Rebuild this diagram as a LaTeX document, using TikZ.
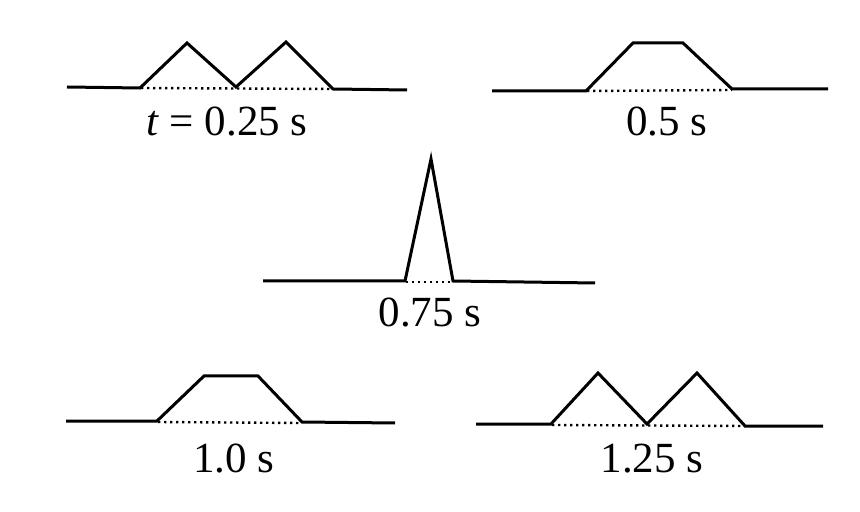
\documentclass[tikz,border=0pt]{standalone}
\usepackage{fontspec}
\setmainfont{Liberation Serif}
\begin{document}
\begin{tikzpicture}[x=0.5pt,y=-0.5pt,
  pulse/.style={line width=1.5pt,line join=miter,line cap=butt},
  dots/.style={line width=1.2pt,dash pattern=on 1.2pt off 1.8pt},
  lbl/.style={anchor=base,inner sep=0pt,font=\fontsize{21.5}{25}\selectfont}]
\useasboundingbox[fill=white] (0,0) rectangle (860,512);
% panel 1: t = 0.25 s
\draw[dots] (141,88) -- (333,89);
\draw[pulse] (67,87) -- (140,88) -- (187,43) -- (236,87) -- (286,42) -- (333,89) -- (407,90);
\node[lbl] (l1) at (227,136) {\textit{t} = 0.25 s};
% panel 2: 0.5 s
\draw[dots] (587,91) -- (732,90);
\draw[pulse] (492,91) -- (586,91) -- (633,43) -- (683,43) -- (732,89) -- (828,89);
\node[lbl] (l2) at (667,136) {0.5 s};
% panel 3: 0.75 s
\draw[dots] (406,282) -- (453,282);
\draw[pulse] (263,281) -- (405,281) -- (431,159) -- (453,281) -- (595,283);
\node[lbl] (l3) at (430,327) {0.75 s};
% panel 4: 1.0 s
\draw[dots] (158,422) -- (302,423);
\draw[pulse] (66,421) -- (157,421) -- (204,376) -- (258,376) -- (302,422) -- (395,423);
\node[lbl] (l4) at (234,472) {1.0 s};
% panel 5: 1.25 s
\draw[dots] (552,425) -- (745,426);
\draw[pulse] (476,424) -- (551,424) -- (598,373) -- (647,424) -- (697,373) -- (745,426) -- (823,426);
\node[lbl] (l5) at (652,472) {1.25 s};
\end{tikzpicture}
\end{document}
